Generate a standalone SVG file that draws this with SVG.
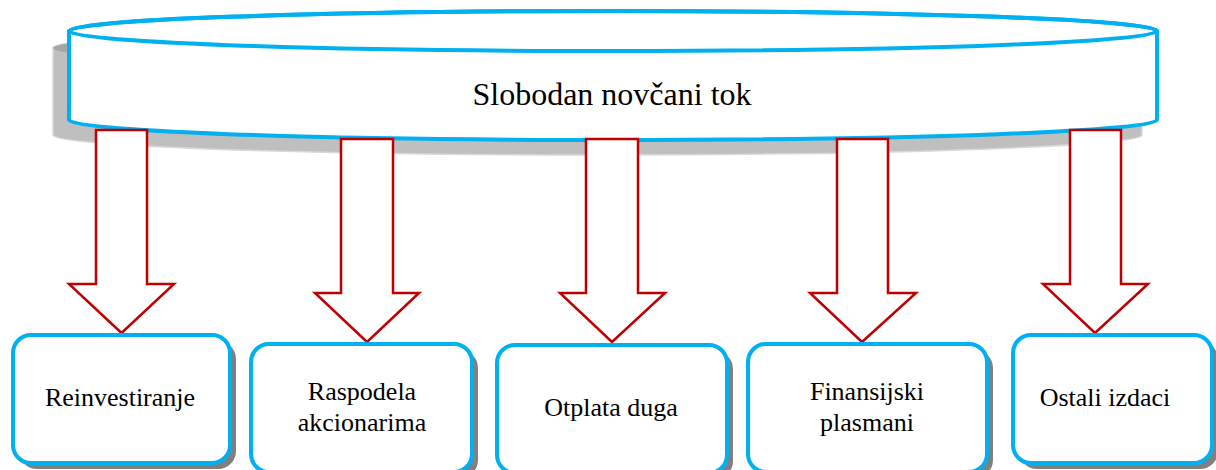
<svg xmlns="http://www.w3.org/2000/svg" width="1216" height="470" viewBox="0 0 1216 470">
<style>
.box{fill:#ffffff;stroke:#00B0F0;stroke-width:4}
.shadow{fill:#808080}
.arrow{fill:#ffffff;stroke:#C00000;stroke-width:2.5;stroke-linejoin:miter}
text{font-family:'Liberation Serif','Times New Roman','DejaVu Serif',serif;fill:#000000;text-anchor:middle}
.lbl{font-size:26px}
.title{font-size:32px}
</style>
<g id="cylinder">
  <path d="M53,48 A544.5,20 0 0 1 1142,48 L1142,135 A544.5,20 0 0 1 53,135 Z" fill="#bfbfbf" stroke="#d9d9d9" stroke-width="1.5"/>
  <ellipse cx="597.5" cy="48" rx="544.5" ry="20" fill="#a6a6a6"/>
  <path d="M69,31 A544,20 0 0 1 1157,31 L1157,120 A544,20 0 0 1 69,120 Z" fill="#ffffff" stroke="#00B0F0" stroke-width="4" stroke-linejoin="round"/>
  <ellipse cx="613" cy="31" rx="544" ry="20" fill="none" stroke="#00B0F0" stroke-width="4"/>
  <text class="title" x="612" y="105">Slobodan novčani tok</text>
</g>
<g id="connectors">
  <polygon class="arrow" points="96,130 147,130 147,284 174,284 121.5,333 69,284 96,284"/>
  <polygon class="arrow" points="341,139 393,139 393,293 419,293 367,342 315,293 341,293"/>
  <polygon class="arrow" points="586,139 638,139 638,293 665,293 612,342 560,293 586,293"/>
  <polygon class="arrow" points="837,139 888,139 888,293 916,293 862,342 810,293 837,293"/>
  <polygon class="arrow" points="1070,130 1121,130 1121,284 1148,284 1095,333 1043,284 1070,284"/>
</g>
<g id="n1">
  <rect class="shadow" x="19" y="341" width="217" height="128" rx="18"/>
  <rect class="box" x="13" y="335" width="217" height="128" rx="18"/>
  <text class="lbl" x="120" y="406">Reinvestiranje</text>
</g>
<g id="n2">
  <rect class="shadow" x="257" y="350" width="221" height="128" rx="18"/>
  <rect class="box" x="251" y="344" width="221" height="128" rx="18"/>
  <text class="lbl" x="362" y="400">Raspodela</text>
  <text class="lbl" x="362" y="431">akcionarima</text>
</g>
<g id="n3">
  <rect class="shadow" x="503" y="351" width="230" height="128" rx="18"/>
  <rect class="box" x="497" y="345" width="230" height="128" rx="18"/>
  <text class="lbl" x="611" y="416">Otplata duga</text>
</g>
<g id="n4">
  <rect class="shadow" x="754" y="350" width="239" height="128" rx="18"/>
  <rect class="box" x="748" y="344" width="239" height="128" rx="18"/>
  <text class="lbl" x="867" y="400">Finansijski</text>
  <text class="lbl" x="867" y="431">plasmani</text>
</g>
<g id="n5">
  <rect class="shadow" x="1019" y="341" width="199" height="128" rx="18"/>
  <rect class="box" x="1013" y="335" width="199" height="128" rx="18"/>
  <text class="lbl" x="1105" y="406">Ostali izdaci</text>
</g>
</svg>
